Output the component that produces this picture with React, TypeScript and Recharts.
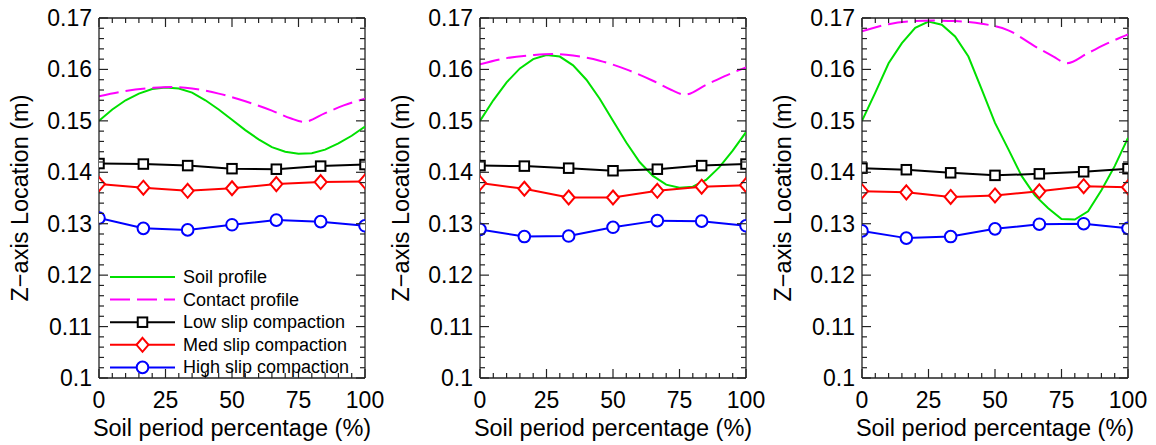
import React from 'react';
import { LineChart, Line, XAxis, YAxis, ReferenceLine } from 'recharts';

const FONT = '"Liberation Sans", Arial, Helvetica, sans-serif';

// ---------- tick labels ----------
const xMajorTicks = [0, 25, 50, 75, 100];
const xMinorTicks = [5, 10, 15, 20, 30, 35, 40, 45, 55, 60, 65, 70, 80, 85, 90, 95];
const yMajorTicks = [0.1, 0.11, 0.12, 0.13, 0.14, 0.15, 0.16, 0.17];
const yMinorTicks = [
  0.102, 0.104, 0.106, 0.108, 0.112, 0.114, 0.116, 0.118, 0.122, 0.124, 0.126, 0.128,
  0.132, 0.134, 0.136, 0.138, 0.142, 0.144, 0.146, 0.148, 0.152, 0.154, 0.156, 0.158,
  0.162, 0.164, 0.166, 0.168,
];

// ---------- categories (x positions, %) ----------
const markerX = [0, 16.67, 33.33, 50, 66.67, 83.33, 100];
const soilX = [0, 5, 10, 15, 20, 25, 30, 35, 40, 45, 50, 55, 60, 65, 70, 75, 80, 85, 90, 95, 100];
const contactX = [0, 10, 20, 27, 35, 45, 55, 65, 72, 77, 85, 92, 100];

// ---------- panel 1 ----------
const soil1 = [0.15, 0.1522, 0.154, 0.1553, 0.1562, 0.1565, 0.1563, 0.1555, 0.154, 0.1522, 0.1502,
  0.1482, 0.1464, 0.1449, 0.144, 0.1436, 0.1437, 0.1444, 0.1456, 0.1471, 0.1489];
const contact1 = [0.1548, 0.1558, 0.1564, 0.1566, 0.1563, 0.1553, 0.1538, 0.152, 0.1505, 0.1498, 0.1515, 0.153, 0.1543];
const low1 = [0.1417, 0.1416, 0.1413, 0.1407, 0.1406, 0.1412, 0.1415];
const med1 = [0.1377, 0.137, 0.1364, 0.1369, 0.1377, 0.1381, 0.1382];
const high1 = [0.1311, 0.1291, 0.1288, 0.1298, 0.1307, 0.1304, 0.1296];

// ---------- panel 2 ----------
const soil2 = [0.15, 0.154, 0.1575, 0.1602, 0.162, 0.1628, 0.1625, 0.1608, 0.158, 0.1543, 0.15,
  0.1458, 0.142, 0.1393, 0.1376, 0.137, 0.1372, 0.1385, 0.141, 0.1442, 0.1478];
const contact2 = [0.161, 0.1622, 0.1628, 0.163, 0.1627, 0.1617, 0.16, 0.1578, 0.156, 0.1551, 0.157, 0.1587, 0.1604];
const low2 = [0.1413, 0.1412, 0.1408, 0.1403, 0.1406, 0.1413, 0.1416];
const med2 = [0.1379, 0.1368, 0.1351, 0.1351, 0.1364, 0.1372, 0.1375];
const high2 = [0.1289, 0.1275, 0.1276, 0.1293, 0.1306, 0.1305, 0.1296];

// ---------- panel 3 ----------
const soil3 = [0.15, 0.1555, 0.1612, 0.1651, 0.1681, 0.1693, 0.1687, 0.1664, 0.1625, 0.1561, 0.1496,
  0.1445, 0.1393, 0.1355, 0.133, 0.1309, 0.1308, 0.1324, 0.1365, 0.1412, 0.1467];
const contact3 = [0.1674, 0.1688, 0.1694, 0.1695, 0.1694, 0.1689, 0.1676, 0.1645, 0.1625, 0.1612, 0.1632, 0.165, 0.1668];
const low3 = [0.1408, 0.1405, 0.1399, 0.1394, 0.1397, 0.1401, 0.1407];
const med3 = [0.1363, 0.1361, 0.1352, 0.1355, 0.1363, 0.1373, 0.1371];
const high3 = [0.1286, 0.1272, 0.1275, 0.129, 0.1299, 0.13, 0.1291];

const seriesNames = ['Soil profile', 'Contact profile', 'Low slip compaction', 'Med slip compaction', 'High slip compaction'];
const seriesColors = ['#00e000', '#ff00ff', '#000000', '#ff0000', '#0000ff'];

const toPts = (xs: number[], ys: number[]) => xs.map((x, i) => ({ x, y: ys[i] }));

const panels = [
  { soil: soil1, contact: contact1, low: low1, med: med1, high: high1 },
  { soil: soil2, contact: contact2, low: low2, med: med2, high: high2 },
  { soil: soil3, contact: contact3, low: low3, med: med3, high: high3 },
];

const isMajor = (v: number, majors: number[]) => majors.some((m) => Math.abs(m - v) < 1e-9);

const PLOT_LEFT = 99;
const PLOT_TOP = 18;
const PLOT_W = 266;
const PLOT_H = 360;
const CH_W = 395;
const CH_H = 445;
const AX = '#222';

// ---------- markers ----------
const Square = (p: any) => {
  const s = 9.5;
  return <rect key={p.key} x={p.cx - s / 2} y={p.cy - s / 2} width={s} height={s} fill="#fff" stroke="#000" strokeWidth={2} />;
};
const Diamond = (p: any) => {
  const w = 6, h = 7;
  return (
    <path key={p.key} d={`M${p.cx},${p.cy - h} L${p.cx + w},${p.cy} L${p.cx},${p.cy + h} L${p.cx - w},${p.cy} Z`}
      fill="#fff" stroke="#ff0000" strokeWidth={2} />
  );
};
const Circle = (p: any) => <circle key={p.key} cx={p.cx} cy={p.cy} r={5.8} fill="#fff" stroke="#0000ff" strokeWidth={2} />;

// ---------- ticks (inward, mirrored on the opposite side) ----------
const LeftTick = (p: any) => {
  const v = p.payload.value;
  const major = isMajor(v, yMajorTicks);
  const len = major ? 9 : 5;
  const xr = p.x + PLOT_W;
  return (
    <g>
      <line x1={p.x} x2={p.x + len} y1={p.y} y2={p.y} stroke={AX} strokeWidth={1.2} />
      <line x1={xr} x2={xr - len} y1={p.y} y2={p.y} stroke={AX} strokeWidth={1.2} />
      {major && (
        <text x={p.x - 7} y={p.y} textAnchor="end" dominantBaseline="central" fontSize={23} fontFamily={FONT} fill="#000">
          {String(v)}
        </text>
      )}
    </g>
  );
};
const BottomTick = (p: any) => {
  const v = p.payload.value;
  const major = isMajor(v, xMajorTicks);
  const len = major ? 9 : 5;
  const yt = p.y - PLOT_H;
  return (
    <g>
      <line x1={p.x} x2={p.x} y1={p.y} y2={p.y - len} stroke={AX} strokeWidth={1.2} />
      <line x1={p.x} x2={p.x} y1={yt} y2={yt + len} stroke={AX} strokeWidth={1.2} />
      {major && (
        <text x={p.x} y={p.y + 22} textAnchor="middle" dominantBaseline="central" fontSize={23} fontFamily={FONT} fill="#000">
          {String(v)}
        </text>
      )}
    </g>
  );
};

// ---------- legend (drawn over the first panel) ----------
const LegendBox = () => {
  const rowH = 22.6;
  return (
    <svg width={260} height={118} style={{ position: 'absolute', left: 108, top: 265, overflow: 'visible' }}>
      {seriesNames.map((name, i) => {
        const y = 12 + i * rowH;
        const c = seriesColors[i];
        return (
          <g key={name}>
            <line x1={2} x2={67} y1={y} y2={y} stroke={c} strokeWidth={2}
              strokeDasharray={i === 1 ? '20 7' : undefined} />
            {i === 2 && <Square cx={34.5} cy={y} />}
            {i === 3 && <Diamond cx={34.5} cy={y} />}
            {i === 4 && <Circle cx={34.5} cy={y} />}
            <text x={75} y={y} dominantBaseline="central" fontSize={18} fontFamily={FONT} fill="#000">{name}</text>
          </g>
        );
      })}
    </svg>
  );
};

const Panel = ({ idx, left }: { idx: number; left: number }) => {
  const d = panels[idx];
  const xDom: [number, number] = [0, 100];
  const yDom: [number, number] = [0.1, 0.17];
  return (
    <div style={{ position: 'absolute', left, top: 0 }}>
      <LineChart width={CH_W} height={CH_H} margin={{ top: PLOT_TOP, right: CH_W - PLOT_LEFT - PLOT_W, bottom: 0, left: 0 }}>
        <XAxis dataKey="x" type="number" domain={xDom} ticks={[...xMajorTicks, ...xMinorTicks]} allowDataOverflow
          interval={0} height={CH_H - PLOT_TOP - PLOT_H} tickSize={0} tickMargin={0} tick={<BottomTick />}
          axisLine={{ stroke: AX, strokeWidth: 1.3 }} tickLine={false}
          label={{
            content: (lp: any) => {
              const vb = lp.viewBox;
              return (
                <text x={vb.x + vb.width / 2} y={vb.y + 50} textAnchor="middle" dominantBaseline="central"
                  fontSize={23.5} fontFamily={FONT} fill="#000">Soil period percentage (%)</text>
              );
            },
          }} />
        <YAxis type="number" domain={yDom} ticks={[...yMajorTicks, ...yMinorTicks]} interval={0}
          width={PLOT_LEFT} tickSize={0} tickMargin={0} tick={<LeftTick />} axisLine={{ stroke: AX, strokeWidth: 1.3 }}
          tickLine={false} allowDataOverflow
          label={{
            content: (lp: any) => {
              const vb = lp.viewBox;
              const cx = 20;
              const cy = vb.y + vb.height / 2;
              return (
                <text x={cx} y={cy} transform={`rotate(-90 ${cx} ${cy})`} textAnchor="middle" dominantBaseline="central"
                  fontSize={23.5} fontFamily={FONT} fill="#000">Z−axis Location (m)</text>
              );
            },
          }} />
        <ReferenceLine y={0.17} stroke={AX} strokeWidth={1.3} />
        <ReferenceLine x={100} stroke={AX} strokeWidth={1.3} />
        <Line data={toPts(soilX, d.soil)} dataKey="y" name={seriesNames[0]} stroke={seriesColors[0]}
          strokeWidth={2} dot={false} isAnimationActive={false} type="linear" />
        <Line data={toPts(contactX, d.contact)} dataKey="y" name={seriesNames[1]} stroke={seriesColors[1]}
          strokeWidth={2} strokeDasharray="20 7" dot={false} isAnimationActive={false} type="monotone" />
        <Line data={toPts(markerX, d.low)} dataKey="y" name={seriesNames[2]} stroke={seriesColors[2]}
          strokeWidth={2} dot={(p: any) => <Square {...p} />} isAnimationActive={false} type="linear" />
        <Line data={toPts(markerX, d.med)} dataKey="y" name={seriesNames[3]} stroke={seriesColors[3]}
          strokeWidth={2} dot={(p: any) => <Diamond {...p} />} isAnimationActive={false} type="linear" />
        <Line data={toPts(markerX, d.high)} dataKey="y" name={seriesNames[4]} stroke={seriesColors[4]}
          strokeWidth={2} dot={(p: any) => <Circle {...p} />} isAnimationActive={false} type="linear" />
      </LineChart>
      {idx === 0 && <LegendBox />}
    </div>
  );
};

export default function App() {
  return (
    <div style={{ position: 'absolute', left: 0, top: 0, width: 1156, height: 445, background: '#fff', overflow: 'hidden' }}>
      <Panel idx={0} left={0} />
      <Panel idx={1} left={381} />
      <Panel idx={2} left={763} />
    </div>
  );
}
